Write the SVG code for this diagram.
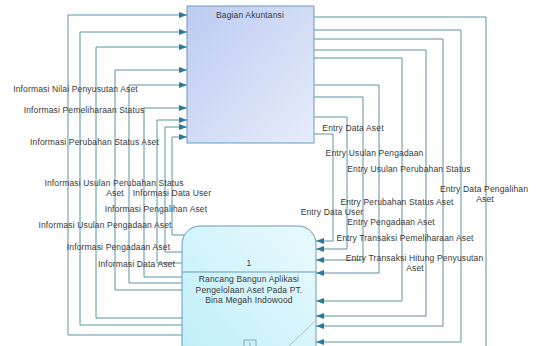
<svg xmlns="http://www.w3.org/2000/svg" width="536" height="346" viewBox="0 0 536 346">
<style>
.flow{fill:none;stroke:#5a93a3;stroke-width:1;marker-end:url(#arr)}
.lbl{font-family:"Liberation Sans",Arial,sans-serif;font-size:8.5px;letter-spacing:0.15px;fill:#383838;text-anchor:middle}
.node{stroke:#6a9ab8;stroke-width:1}
</style>
<defs>
<linearGradient id="gAk" x1="0" y1="0" x2="1" y2="1">
<stop offset="0" stop-color="#bccbf1"/>
<stop offset="1" stop-color="#e6ecfb"/>
</linearGradient>
<linearGradient id="gPr" x1="1" y1="0" x2="0" y2="1">
<stop offset="0" stop-color="#eafafd"/>
<stop offset="1" stop-color="#bdeef9"/>
</linearGradient>
<marker id="arr" markerUnits="userSpaceOnUse" markerWidth="9" markerHeight="6" refX="8" refY="3" orient="auto">
<path d="M0,0 L8,3 L0,6 z" fill="#2a79a0"/>
</marker>
</defs>
<rect width="536" height="346" fill="#ffffff"/>
<g id="connectors">
<polyline class="flow" points="182,335 68,335 68,15 187,15"/>
<polyline class="flow" points="182,325 80,325 80,32 187,32"/>
<polyline class="flow" points="182,318 96,318 96,47 187,47"/>
<polyline class="flow" points="182,290 115,290 115,70 187,70"/>
<polyline class="flow" points="182,283 129,283 129,85 187,85"/>
<polyline class="flow" points="182,277 144,277 144,108 187,108"/>
<polyline class="flow" points="182,263 157,263 157,120 187,120"/>
<polyline class="flow" points="182,252 165,252 165,127 187,127"/>
<polyline class="flow" points="184,235 172,235 172,137 187,137"/>
<polyline class="flow" points="314,17 486,17 486,352 316,352"/>
<polyline class="flow" points="314,30 461,30 461,342 316,342"/>
<polyline class="flow" points="314,39 443,39 443,326 316,326"/>
<polyline class="flow" points="314,50 426,50 426,316 316,316"/>
<polyline class="flow" points="314,58 402,58 402,301 316,301"/>
<polyline class="flow" points="314,85 379,85 379,273 316,273"/>
<polyline class="flow" points="314,97 363,97 363,260 316,260"/>
<polyline class="flow" points="314,117 347,117 347,249 316,249"/>
<polyline class="flow" points="314,134 333,134 333,241 316,241"/>
</g>
<g id="labels">
<text class="lbl" x="75.5" y="92">Informasi Nilai Penyusutan Aset</text>
<text class="lbl" x="84" y="113">Informasi Pemeliharaan Status</text>
<text class="lbl" x="94.5" y="145">Informasi Perubahan Status Aset</text>
<text class="lbl" x="114" y="186">Informasi Usulan Perubahan Status</text>
<text class="lbl" x="115" y="196">Aset</text>
<text class="lbl" x="172" y="196">Informasi Data User</text>
<text class="lbl" x="156" y="212">Informasi Pengalihan Aset</text>
<text class="lbl" x="105" y="228">Informasi Usulan Pengadaan Aset</text>
<text class="lbl" x="118.5" y="250">Informasi Pengadaan Aset</text>
<text class="lbl" x="136.5" y="267">Informasi Data Aset</text>
<text class="lbl" x="353" y="131">Entry Data Aset</text>
<text class="lbl" x="374.5" y="156">Entry Usulan Pengadaan</text>
<text class="lbl" x="409" y="172">Entry Usulan Perubahan Status</text>
<text class="lbl" x="484" y="192">Entry Data Pengalihan</text>
<text class="lbl" x="485" y="202">Aset</text>
<text class="lbl" x="397" y="205">Entry Perubahan Status Aset</text>
<text class="lbl" x="332" y="215">Entry Data User</text>
<text class="lbl" x="391" y="225">Entry Pengadaan Aset</text>
<text class="lbl" x="405" y="241">Entry Transaksi Pemeliharaan Aset</text>
<text class="lbl" x="414.5" y="261">Entry Transaksi Hitung Penyusutan</text>
<text class="lbl" x="415" y="271">Aset</text>
</g>
<g id="node-akuntansi">
<rect class="node" x="187" y="6" width="127" height="137" fill="url(#gAk)"/>
<text class="lbl" x="250" y="18">Bagian Akuntansi</text>
</g>
<g id="node-process">
<rect class="node" x="182" y="226" width="134" height="140" rx="18" ry="18" fill="url(#gPr)"/>
<line x1="182" y1="272" x2="316" y2="272" stroke="#6a9ab8" stroke-width="1"/>
<text class="lbl" x="249" y="266">1</text>
<text class="lbl" x="249" y="282">Rancang Bangun Aplikasi</text>
<text class="lbl" x="249" y="293">Pengelolaan Aset Pada PT.</text>
<text class="lbl" x="249" y="303">Bina Megah Indowood</text>
<line x1="314" y1="322" x2="289" y2="346" stroke="#8fb6c6" stroke-width="0.8"/>
<rect x="244" y="340" width="12" height="10" fill="none" stroke="#7a9aaa" stroke-width="0.8"/>
<line x1="250" y1="342" x2="250" y2="346" stroke="#7a9aaa" stroke-width="0.8"/>
</g>
</svg>
